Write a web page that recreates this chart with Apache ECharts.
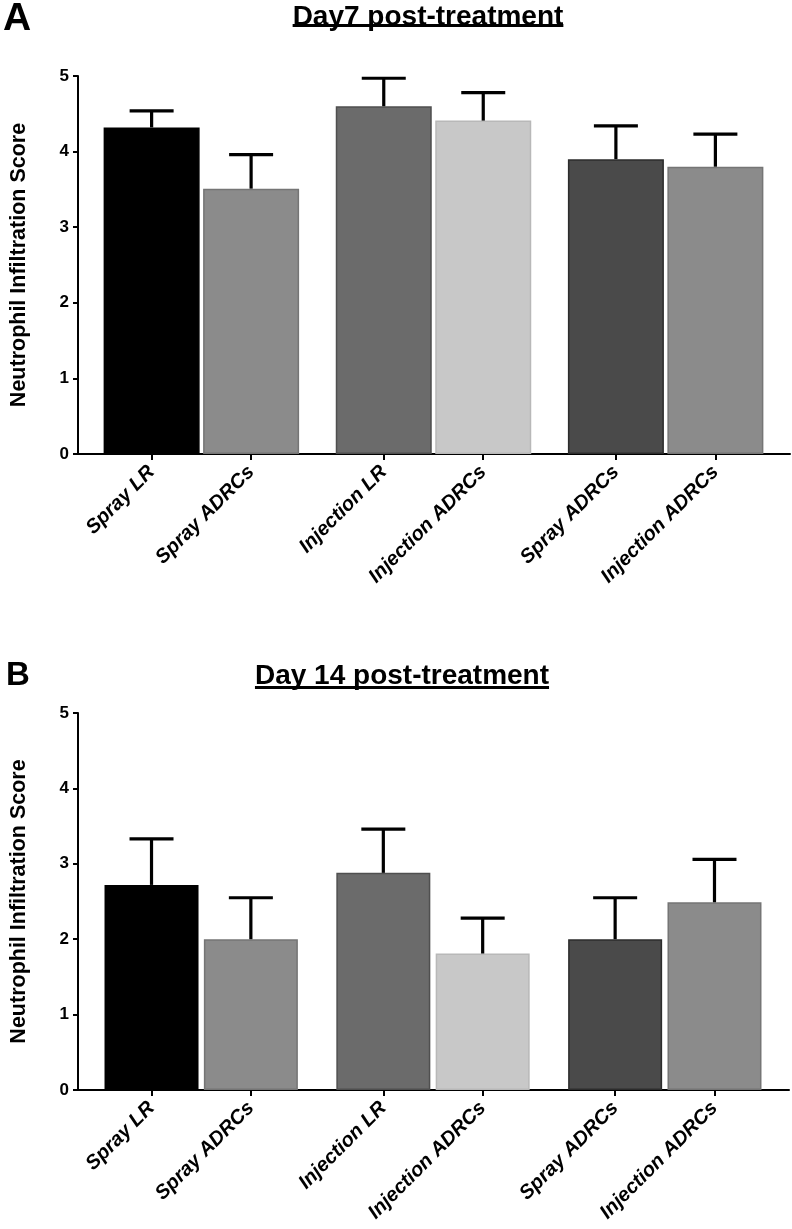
<!DOCTYPE html>
<html>
<head>
<meta charset="utf-8">
<script src="https://cdn.jsdelivr.net/npm/echarts@6/dist/echarts.min.js"></script>
<style>
html,body{margin:0;padding:0;background:#fff;}
#chart{width:792px;height:1229px;}
</style>
</head>
<body>
<div id="chart"></div>
<script>
// ---- data ----
var categories = ['Spray LR', 'Spray ADRCs', 'Injection LR', 'Injection ADRCs', 'Spray ADRCs', 'Injection ADRCs'];
var groupOf = [0, 0, 1, 1, 2, 2];           // treatment group for each bar
var day7Mean = [4.32, 3.51, 4.60, 4.41, 3.90, 3.80];
var day7Err  = [0.22, 0.45, 0.37, 0.37, 0.44, 0.43];
var day14Mean = [2.72, 2.00, 2.88, 1.81, 2.00, 2.49];
var day14Err  = [0.61, 0.55, 0.58, 0.47, 0.55, 0.57];
var yTicks = [0, 1, 2, 3, 4, 5];
var titles = ['Day7 post-treatment', 'Day 14 post-treatment'];
var panelLetters = ['A', 'B'];
var yName = 'Neutrophil Infiltration Score';

// ---- styles ----
var fills   = ['#000000', '#8b8b8b', '#6b6b6b', '#c8c8c8', '#4a4a4a', '#8b8b8b'];
var borders = ['#000000', '#757575', '#4f4f4f', '#b8b8b8', '#2c2c2c', '#757575'];
var FONT = '"Liberation Sans", Arial, sans-serif';

// slot position of each bar on the x value axis: 3 units within group, 4 between groups
var slot = [];
(function () {
  var pos = 0;
  for (var i = 0; i < categories.length; i++) {
    if (i > 0) pos += (groupOf[i] === groupOf[i - 1]) ? 3 : 4;
    slot.push(pos);
  }
})();

function barData(means) {
  return means.map(function (v, i) {
    return { value: [slot[i], v], itemStyle: { color: fills[i], borderColor: borders[i], borderWidth: 1.5 } };
  });
}
function errData(means, errs) {
  return means.map(function (v, i) { return [slot[i], v, v + errs[i]]; });
}
function errRender(params, api) {
  var x = api.value(0);
  var p0 = api.coord([x, api.value(1)]);
  var p1 = api.coord([x, api.value(2)]);
  var half = 22;
  var st = { stroke: '#000', lineWidth: 3.2 };
  return {
    type: 'group',
    children: [
      { type: 'line', shape: { x1: p0[0], y1: p0[1], x2: p1[0], y2: p1[1] }, style: st },
      { type: 'line', shape: { x1: p1[0] - half, y1: p1[1], x2: p1[0] + half, y2: p1[1] }, style: st }
    ]
  };
}

var grids = [
  { left: 66, top: 76, width: 724, height: 378 },
  { left: 63, top: 713, width: 726, height: 377 }
];

function xAxisFor(idx) {
  return {
    type: 'value', gridIndex: idx, min: -2.22, max: 19.25,
    splitLine: { show: false },
    axisLine: { show: true, onZero: false, lineStyle: { color: '#000', width: 2 } },
    axisTick: { show: true, customValues: slot, length: 6, lineStyle: { color: '#000', width: 2 } },
    axisLabel: {
      show: true, customValues: slot, rotate: 45, margin: 15,
      fontFamily: FONT, fontWeight: 'bold', fontStyle: 'italic', fontSize: 20, color: '#000',
      formatter: function (v) {
        var i = slot.indexOf(Math.round(v));
        return i >= 0 ? categories[i] : '';
      }
    }
  };
}
function yAxisFor(idx) {
  return {
    type: 'value', gridIndex: idx, min: 0, max: 5, interval: 1,
    name: yName, nameLocation: 'middle', nameGap: 48, nameRotate: 90,
    nameTextStyle: { fontFamily: FONT, fontWeight: 'bold', fontSize: 21.5, color: '#000' },
    splitLine: { show: false },
    axisLine: { show: true, onZero: false, lineStyle: { color: '#000', width: 2 } },
    axisTick: { show: true, length: 5, lineStyle: { color: '#000', width: 2 } },
    axisLabel: {
      margin: 9, fontFamily: FONT, fontWeight: 'bold', fontSize: 17, color: '#000',
      formatter: function (v) { return yTicks.indexOf(v) >= 0 ? String(v) : ''; }
    }
  };
}

var titleY = [3, 662];
var underlineY = [24, 686];
var titleCx = [428, 402];
var letterPos = [[3, 0, 39], [6, 659, 33]];

var graphics = [];
for (var k = 0; k < 2; k++) {
  graphics.push({
    type: 'text', left: letterPos[k][0], top: letterPos[k][1],
    style: { text: panelLetters[k], font: 'bold ' + letterPos[k][2] + 'px ' + FONT, fill: '#000' }
  });
  graphics.push({
    type: 'text', id: 'title' + k, x: titleCx[k], y: titleY[k],
    style: { text: titles[k], font: 'bold 28px ' + FONT, fill: '#000', textAlign: 'center', textVerticalAlign: 'top' }
  });
}

var chart = echarts.init(document.getElementById('chart'), null, { renderer: 'canvas' });
chart.setOption({
  animation: false,
  backgroundColor: '#fff',
  grid: grids,
  xAxis: [xAxisFor(0), xAxisFor(1)],
  yAxis: [yAxisFor(0), yAxisFor(1)],
  series: [
    { type: 'bar', xAxisIndex: 0, yAxisIndex: 0, barWidth: 96, data: barData(day7Mean) },
    { type: 'custom', xAxisIndex: 0, yAxisIndex: 0, renderItem: errRender, data: errData(day7Mean, day7Err), z: 3 },
    { type: 'bar', xAxisIndex: 1, yAxisIndex: 1, barWidth: 94, data: barData(day14Mean) },
    { type: 'custom', xAxisIndex: 1, yAxisIndex: 1, renderItem: errRender, data: errData(day14Mean, day14Err), z: 3 }
  ],
  graphic: graphics
});

// underline the titles using their measured widths
(function () {
  var extra = [];
  for (var k = 0; k < 2; k++) {
    var w = echarts.format.getTextRect ? echarts.format.getTextRect(titles[k], 'bold 28px ' + FONT).width : 280;
    extra.push({
      type: 'rect', shape: { x: titleCx[k] - w / 2, y: underlineY[k], width: w, height: 3 },
      style: { fill: '#000' }
    });
  }
  chart.setOption({ graphic: graphics.concat(extra) });
})();
</script>
</body>
</html>
